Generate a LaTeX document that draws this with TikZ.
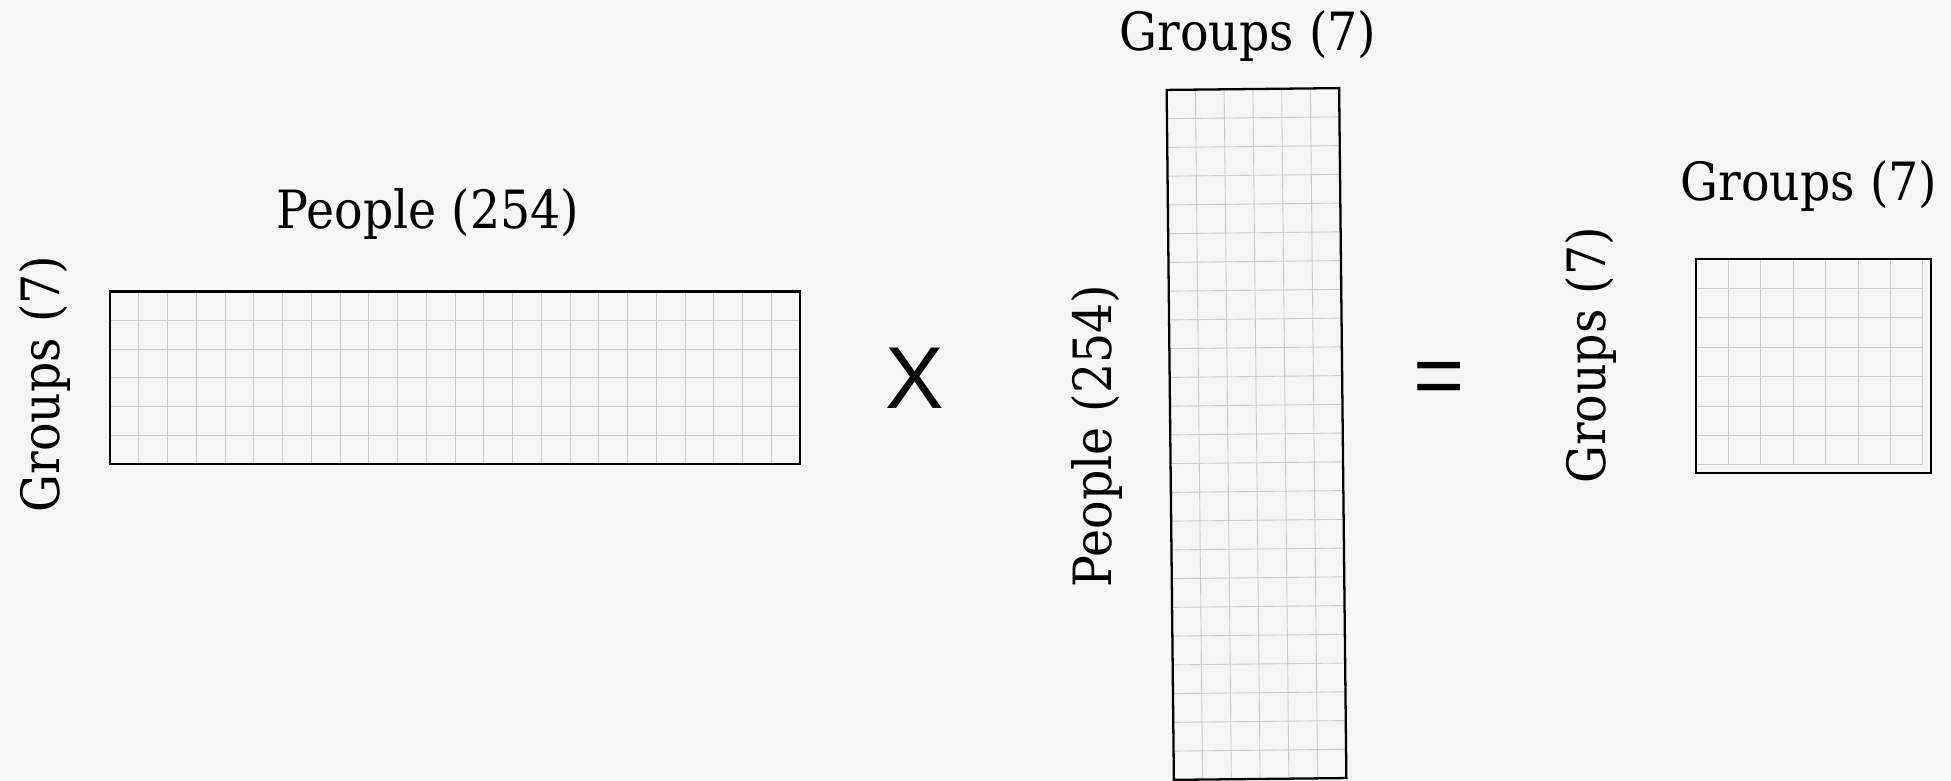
\documentclass[tikz,border=0pt]{standalone}
\usepackage{fontspec}
\setmainfont{DejaVu Serif}[FakeStretch=0.9]
\newfontfamily\opfont{Liberation Sans}

\definecolor{paper}{HTML}{F6F6F6}
\definecolor{cellline}{HTML}{C8C8C8}

\tikzset{
	cellgrid/.style={draw=cellline, line width=0.5pt},
	matframe/.style={draw=black, line width=1.3pt},
	dimlabel/.style={inner sep=0pt, anchor=base, font=\fontsize{30}{36}\selectfont},
	oplabel/.style={inner sep=0pt, anchor=base, font=\opfont\fontsize{50}{60}\selectfont},
}

\begin{document}
\begin{tikzpicture}
	\useasboundingbox (0,0) rectangle (39.02,15.62);
	\fill[paper] (0,0) rectangle (39.02,15.62);

	% groups x people
	\begin{scope}[shift={(2.2,6.34)}]
		\draw[cellgrid] (0,0) grid[step=0.575] (13.8,3.45);
		\draw[matframe] (0,0) rectangle (13.8,3.45);
	\end{scope}
	\node[dimlabel] (peopleA) at (8.56,11.04) {People (254)};
	\node[dimlabel, rotate=90] (groupsA) at (1.18,7.94) {Groups (7)};

	\node[oplabel] (times) at (18.3,7.44) {X};

	% people x groups, a bit skewed
	\begin{scope}[shift={(25.13,6.94)}, rotate=0.6]
		\draw[cellgrid] (-1.725,-6.9) grid[step=0.575] (1.725,6.9);
		\draw[matframe] (-1.725,-6.9) rectangle (1.725,6.9);
	\end{scope}
	\node[dimlabel] (groupsB) at (24.96,14.6) {Groups (7)};
	\node[dimlabel, rotate=90] (peopleB) at (22.22,6.9) {People (254)};

	\node[oplabel] (equals) at (28.79,7.51) {=};

	% groups x groups
	\begin{scope}[shift={(33.92,10.44)}]
		\draw[cellgrid] (0,-4.116) grid[xstep=0.648, ystep=0.588] (4.536,0);
		\draw[matframe] (0,0) rectangle (4.7,-4.28);
	\end{scope}
	\node[dimlabel, rotate=90] (groupsC) at (32.1,8.51) {Groups (7)};
	\node[dimlabel] (groupsD) at (36.18,11.61) {Groups (7)};
\end{tikzpicture}
\end{document}
